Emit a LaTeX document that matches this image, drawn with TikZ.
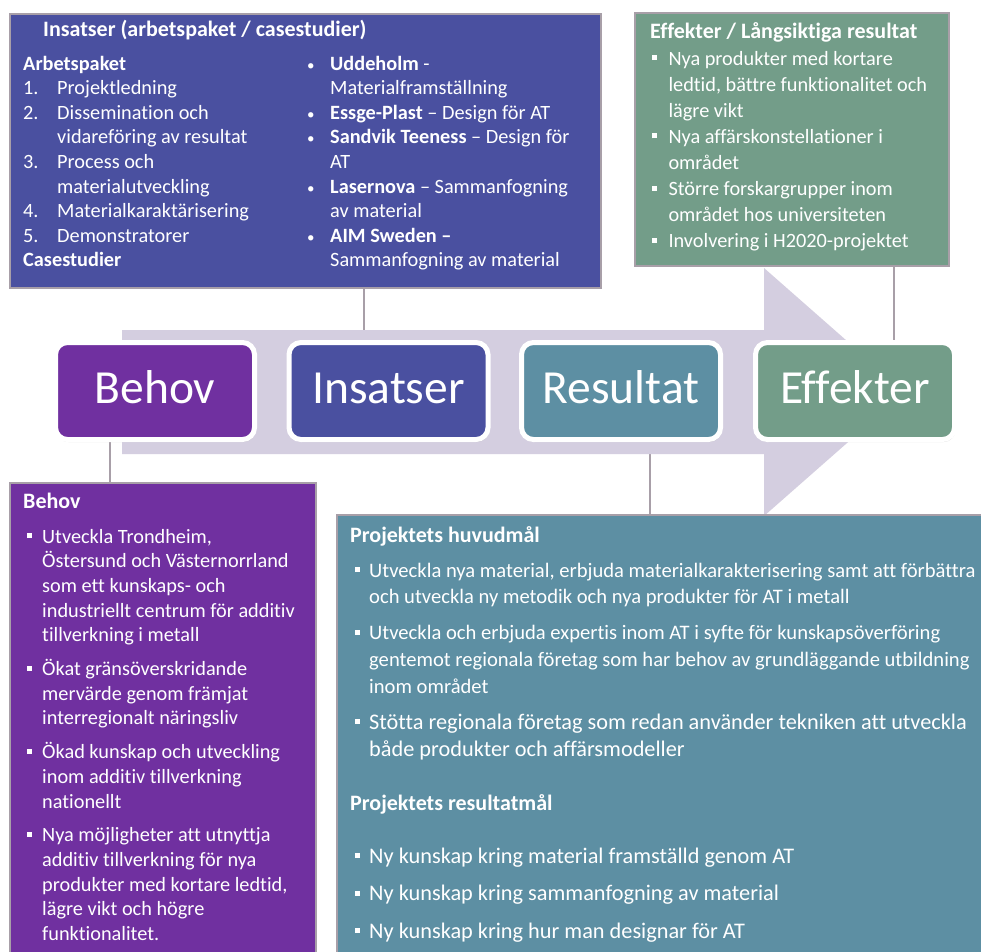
\documentclass[tikz,border=0pt]{standalone}
\usepackage{fontspec}
\setmainfont{Carlito}[Ligatures={NoCommon}]
\usetikzlibrary{shadows}
\pgfdeclarelayer{background}
\pgfsetlayers{background,main}
\definecolor{cpurple}{HTML}{7030A0}
\definecolor{cblue}{HTML}{4A50A0}
\definecolor{cteal}{HTML}{5D8FA3}
\definecolor{cgreen}{HTML}{739D89}
\definecolor{clav}{HTML}{D4CEE0}
\definecolor{cgray}{HTML}{A89FA8}
\newcommand\sqb{\rule[5pt]{5pt}{5pt}}
\newcommand\dotb{{\fontsize{15}{15}\selectfont •}}
\newcommand\hb[2]{\makebox[#1][l]{#2}}
\begin{document}
\begin{tikzpicture}[x=1pt,y=-1pt,
  infobox/.style={draw=cgray, line width=2pt, anchor=north west, inner sep=0pt},
  conn/.style={draw=cgray, line width=2pt},
  stage/.style={rounded corners=12pt, draw=white, line width=5pt, text=white,
    font=\fontsize{47.5}{56}\selectfont, minimum width=199pt, minimum height=97pt,
    text height=30pt, text depth=6pt,
    inner sep=0pt, drop shadow={opacity=0.3, shadow xshift=1pt, shadow yshift=-2.5pt}},
  txt/.style={text=white, inner sep=0pt, anchor=base west},
  body/.style={txt, font=\fontsize{20.3}{24.6}\selectfont},
  ttl/.style={txt, font=\bfseries\fontsize{22}{26}\selectfont}]
\useasboundingbox (0,0) rectangle (981,951);
\clip (0,0) rectangle (981,951);

% info boxes
\node[infobox, fill=cblue, minimum width=591pt, minimum height=274pt] (tl) at (9,13) {};
\node[infobox, fill=cgreen, minimum width=314pt, minimum height=253pt] (tr) at (634,12) {};
\node[infobox, fill=cpurple, minimum width=306pt, minimum height=500pt] (bl) at (9,482) {};
\node[infobox, fill=cteal, minimum width=700pt, minimum height=480pt] (br) at (336,514) {};

% stage nodes
\node[stage, fill=cpurple] (beh) at (155,391) {Behov};
\node[stage, fill=cblue] (ins) at (388.5,391) {Insatser};
\node[stage, fill=cteal] (res) at (621,391) {Resultat};
\node[stage, fill=cgreen] (eff) at (855,391) {Effekter};

% connectors and arrow on background
\coordinate (insc) at (364,330);
\coordinate (effc) at (894,0);
\coordinate (behc) at (110,0);
\coordinate (resc) at (650,0);
\begin{pgfonlayer}{background}
\fill[white] (0,0) rectangle (981,951);
\draw[conn] (tl.south -| insc) -- (insc);
\draw[conn] (tr.south -| effc) -- (eff.north -| effc);
\draw[conn] (beh.south -| behc) -- (bl.north -| behc);
\draw[conn] (res.south -| resc) -- (br.north -| resc);
\fill[clav] (122,330) -- (764,330) -- (764,268) -- (905,392) -- (764,516)
  -- (764,454) -- (122,454) -- cycle;
\end{pgfonlayer}

% top-left texts
\node[ttl] (tlt) at (43,36) {Insatser (arbetspaket / casestudier)};
\node[body] (tll) at (23,70) {\parbox[t]{270pt}{%
\textbf{Arbetspaket}\\
\hb{34pt}{1.}Projektledning\\
\hb{34pt}{2.}Dissemination och\\
\hb{34pt}{}vidareföring av resultat\\
\hb{34pt}{3.}Process och\\
\hb{34pt}{}materialutveckling\\
\hb{34pt}{4.}Materialkaraktärisering\\
\hb{34pt}{5.}Demonstratorer\\
\textbf{Casestudier}}};
\node[body] (tlr) at (307,70) {\parbox[t]{290pt}{%
\hb{23pt}{\dotb}\textbf{Uddeholm} -\\
\hb{23pt}{}Materialframställning\\
\hb{23pt}{\dotb}\textbf{Essge-Plast} – Design för AT\\
\hb{23pt}{\dotb}\textbf{Sandvik Teeness} – Design för\\
\hb{23pt}{}AT\\
\hb{23pt}{\dotb}\textbf{Lasernova} – Sammanfogning\\
\hb{23pt}{}av material\\
\hb{23pt}{\dotb}\textbf{AIM Sweden –}\\
\hb{23pt}{}Sammanfogning av material}};

% top-right texts
\node[ttl] (trt) at (650,38) {Effekter / Långsiktiga resultat};
\node[body, font=\fontsize{20.3}{26.1}\selectfont] (trb) at (652,65) {\parbox[t]{300pt}{%
\hb{16.3pt}{\sqb}Nya produkter med kortare\\
\hb{16.3pt}{}ledtid, bättre funktionalitet och\\
\hb{16.3pt}{}lägre vikt\\
\hb{16.3pt}{\sqb}Nya affärskonstellationer i\\
\hb{16.3pt}{}området\\
\hb{16.3pt}{\sqb}Större forskargrupper inom\\
\hb{16.3pt}{}området hos universiteten\\
\hb{16.3pt}{\sqb}Involvering i H2020-projektet}};

% bottom-left texts
\node[ttl] (blt) at (23,508) {Behov};
\node[body, font=\fontsize{20.3}{24.7}\selectfont] (blb) at (27,543) {\parbox[t]{290pt}{%
\hb{15pt}{\sqb}Utveckla Trondheim,\\
\hb{15pt}{}Östersund och Västernorrland\\
\hb{15pt}{}som ett kunskaps- och\\
\hb{15pt}{}industriellt centrum för additiv\\
\hb{15pt}{}tillverkning i metall\\[9pt]
\hb{15pt}{\sqb}Ökat gränsöverskridande\\
\hb{15pt}{}mervärde genom främjat\\
\hb{15pt}{}interregionalt näringsliv\\[9pt]
\hb{15pt}{\sqb}Ökad kunskap och utveckling\\
\hb{15pt}{}inom additiv tillverkning\\
\hb{15pt}{}nationellt\\[9pt]
\hb{15pt}{\sqb}Nya möjligheter att utnyttja\\
\hb{15pt}{}additiv tillverkning för nya\\
\hb{15pt}{}produkter med kortare ledtid,\\
\hb{15pt}{}lägre vikt och högre\\
\hb{15pt}{}funktionalitet.}};

% bottom-right texts
\node[ttl] (brt1) at (350,542) {Projektets huvudmål};
\node[body, font=\fontsize{20.6}{26.8}\selectfont] (brb1) at (355,577) {\parbox[t]{640pt}{%
\hb{14pt}{\sqb}Utveckla nya material, erbjuda materialkarakterisering samt att förbättra\\
\hb{14pt}{}och utveckla ny metodik och nya produkter för AT i metall\\[9pt]
\hb{14pt}{\sqb}Utveckla och erbjuda expertis inom AT i syfte för kunskapsöverföring\\
\hb{14pt}{}gentemot regionala företag som har behov av grundläggande utbildning\\
\hb{14pt}{}inom området}};
\node[body, font=\fontsize{22.3}{27.5}\selectfont] (brb1b) at (355,729) {\parbox[t]{640pt}{%
\hb{14pt}{\sqb}Stötta regionala företag som redan använder tekniken att utveckla\\
\hb{14pt}{}både produkter och affärsmodeller}};
\node[ttl] (brt2) at (350,810) {Projektets resultatmål};
\node[body, font=\fontsize{22.3}{26.8}\selectfont] (brb2) at (355,863) {\parbox[t]{640pt}{%
\hb{14pt}{\sqb}Ny kunskap kring material framställd genom AT\\[10.7pt]
\hb{14pt}{\sqb}Ny kunskap kring sammanfogning av material\\[10.7pt]
\hb{14pt}{\sqb}Ny kunskap kring hur man designar för AT}};
\end{tikzpicture}
\end{document}
